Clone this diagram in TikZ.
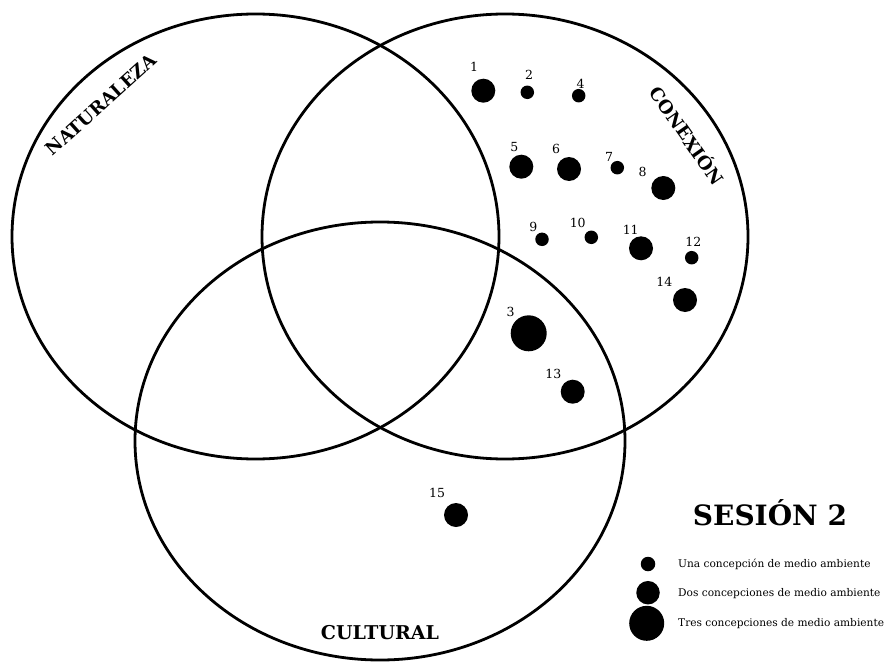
\documentclass[tikz,border=0pt]{standalone}
\usepackage{fontspec}
\setmainfont{DejaVu Serif}
\begin{document}
\begin{tikzpicture}[x=1pt,y=-1pt,
  set/.style={draw=black,line width=2.8pt},
  dot/.style={circle,fill=black,draw=none,inner sep=0pt},
  onec/.style={dot,minimum size=13.5pt},
  twoc/.style={dot,minimum size=24pt},
  threec/.style={dot,minimum size=36pt},
  num/.style={inner sep=0pt,font=\fontsize{12.5}{14}\selectfont},
  setname/.style={inner sep=0pt,font=\fontsize{18}{20}\selectfont\bfseries},
  legtext/.style={inner sep=0pt,anchor=base west,font=\fontsize{10.6}{13}\selectfont}]
  \useasboundingbox[fill=white] (0,0) rectangle (890,663);

  % the three sets
  \draw[set] (255.5,236.5) ellipse [x radius=243.5, y radius=222.5];
  \draw[set] (505,236.5) ellipse [x radius=243, y radius=222.5];
  \draw[set] (380,441) ellipse [x radius=245, y radius=219];

  % set names
  \node[setname,rotate=42] (naturaleza) at (101,105) {NATURALEZA};
  \node[setname,rotate=-55] (conexion) at (688,135) {CONEXIÓN};
  \node[setname,font=\fontsize{19}{22}\selectfont\bfseries] (cultural) at (380,633) {CULTURAL};

  % participants
  \node[twoc] (d1) at (483.3,90.7) {};
  \node[num] (n1) at (474,67) {1};
  \node[onec] (d2) at (527.3,92.3) {};
  \node[num] (n2) at (529,74.7) {2};
  \node[onec] (d4) at (578.7,95.7) {};
  \node[num] (n4) at (580.7,84) {4};
  \node[twoc] (d5) at (521.3,166.7) {};
  \node[num] (n5) at (514.3,147.3) {5};
  \node[twoc] (d6) at (569,169) {};
  \node[num] (n6) at (556,149.3) {6};
  \node[onec] (d7) at (617.3,167.7) {};
  \node[num] (n7) at (609,157.3) {7};
  \node[twoc] (d8) at (663.3,188) {};
  \node[num] (n8) at (642.7,172) {8};
  \node[onec] (d9) at (542,239.3) {};
  \node[num] (n9) at (533.3,226.7) {9};
  \node[onec] (d10) at (591.3,237.3) {};
  \node[num] (n10) at (577.7,222.7) {10};
  \node[twoc] (d11) at (641,248.3) {};
  \node[num] (n11) at (630.7,230) {11};
  \node[onec] (d12) at (691.7,257.7) {};
  \node[num] (n12) at (693.3,242.3) {12};
  \node[twoc] (d14) at (685,300) {};
  \node[num] (n14) at (664.3,281.7) {14};
  \node[threec] (d3) at (528.7,333.3) {};
  \node[num] (n3) at (510.7,311.7) {3};
  \node[twoc] (d13) at (572.7,391.7) {};
  \node[num] (n13) at (553.3,374.3) {13};
  \node[twoc] (d15) at (456,515) {};
  \node[num] (n15) at (437,493) {15};

  % title and legend
  \node[inner sep=0pt,font=\fontsize{28}{32}\selectfont\bfseries] (title) at (770,512.5) {SESIÓN 2};
  \node[onec,minimum size=14.5pt] (l1) at (648,564) {};
  \node[twoc,minimum size=23.5pt] (l2) at (648,592.7) {};
  \node[threec,minimum size=35pt] (l3) at (646.7,623.3) {};
  \node[legtext] (t1) at (678,567.5) {Una concepción de medio ambiente};
  \node[legtext] (t2) at (678,596) {Dos concepciones de medio ambiente};
  \node[legtext] (t3) at (678,626.7) {Tres concepciones de medio ambiente};
\end{tikzpicture}
\end{document}
